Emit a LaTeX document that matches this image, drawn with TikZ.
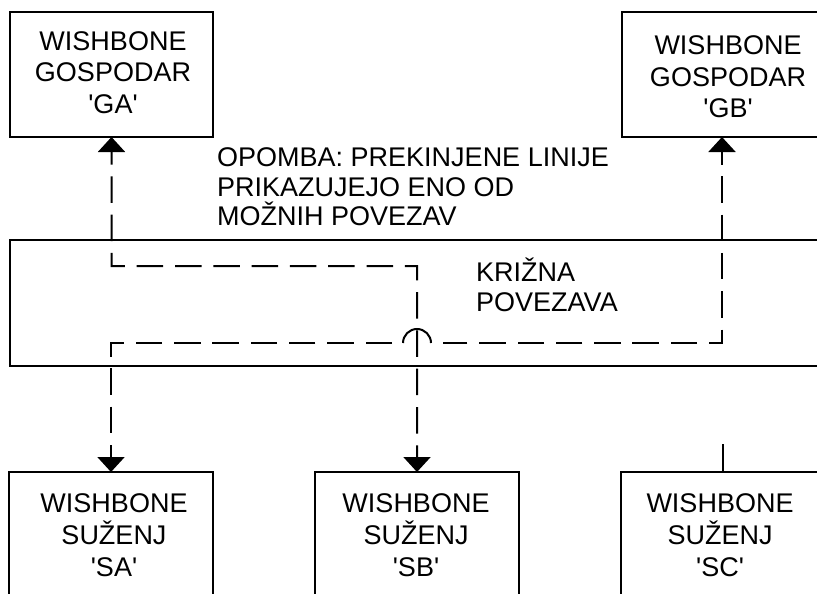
\documentclass[tikz,border=0pt]{standalone}
\usepackage{fontspec}
\setmainfont{Liberation Sans}
\usetikzlibrary{arrows.meta}
\begin{document}
\begin{tikzpicture}[x=1bp,y=-1bp,
  >={Triangle[width=27bp,length=15bp]},
  box/.style={draw=black, line width=2bp, rectangle, inner sep=0pt, outer sep=0pt, anchor=north west},
  lbl/.style={font=\fontsize{27bp}{31.7bp}\selectfont, align=center, inner sep=0pt},
  note/.style={font=\fontsize{27bp}{29.5bp}\selectfont, align=left, inner sep=0pt, anchor=south west},
  conn/.style={line width=2bp, dash pattern=on 26.5bp off 11.8bp, dash phase=13.5bp},
  solidline/.style={line width=2bp},
]
\useasboundingbox (0,0) rectangle (817,594);
\clip (0,0) rectangle (817,594);
\fill[white] (0,0) rectangle (817,594);

% boxes
\node[box, minimum width=203bp, minimum height=125bp] (GA) at (10,12) {};
\node[box, minimum width=200bp, minimum height=125bp] (GB) at (622,12) {};
\node[box, minimum width=830bp, minimum height=126bp] (X) at (10,240) {};
\node[box, minimum width=204bp, minimum height=140bp] (SA) at (9,472) {};
\node[box, minimum width=204bp, minimum height=140bp] (SB) at (315,472) {};
\node[box, minimum width=204bp, minimum height=140bp] (SC) at (621,472) {};

% texts
\node[lbl] (GAt) at (113,72.5) {WISHBONE\\GOSPODAR\\\textquotesingle GA\textquotesingle};
\node[lbl] (GBt) at (728,77) {WISHBONE\\GOSPODAR\\\textquotesingle GB\textquotesingle};
\node[lbl] (SAt) at (114,535) {WISHBONE\\SUŽENJ\\\textquotesingle SA\textquotesingle};
\node[lbl] (SBt) at (416,535) {WISHBONE\\SUŽENJ\\\textquotesingle SB\textquotesingle};
\node[lbl] (SCt) at (720,535) {WISHBONE\\SUŽENJ\\\textquotesingle SC\textquotesingle};
\node[note] (N) at (217,226.3) {OPOMBA: PREKINJENE LINIJE\\PRIKAZUJEJO ENO OD\\MOŽNIH POVEZAV};
\node[note, font=\fontsize{27bp}{30bp}\selectfont] (Xt) at (476,312.3) {KRIŽNA\\POVEZAVA};

% connectors
\coordinate (c1) at (417,266);
\coordinate (hopR) at (443,343);
\coordinate (arcR) at (431,343);
\coordinate (hopL) at (392,343);
\coordinate (scTop) at ([yshift=28bp]SC.north);

\draw[conn, <->] (GA.south) |- (c1) -- (SB.north);
\draw[conn, <-] (GB.south) |- (hopR);
\draw[solidline] (arcR) arc[start angle=0, end angle=-180, radius=14];
\draw[conn, dash phase=0bp, ->] (hopL) -| (SA.north);
\draw[solidline] (scTop) -- (SC.north);
\end{tikzpicture}
\end{document}
